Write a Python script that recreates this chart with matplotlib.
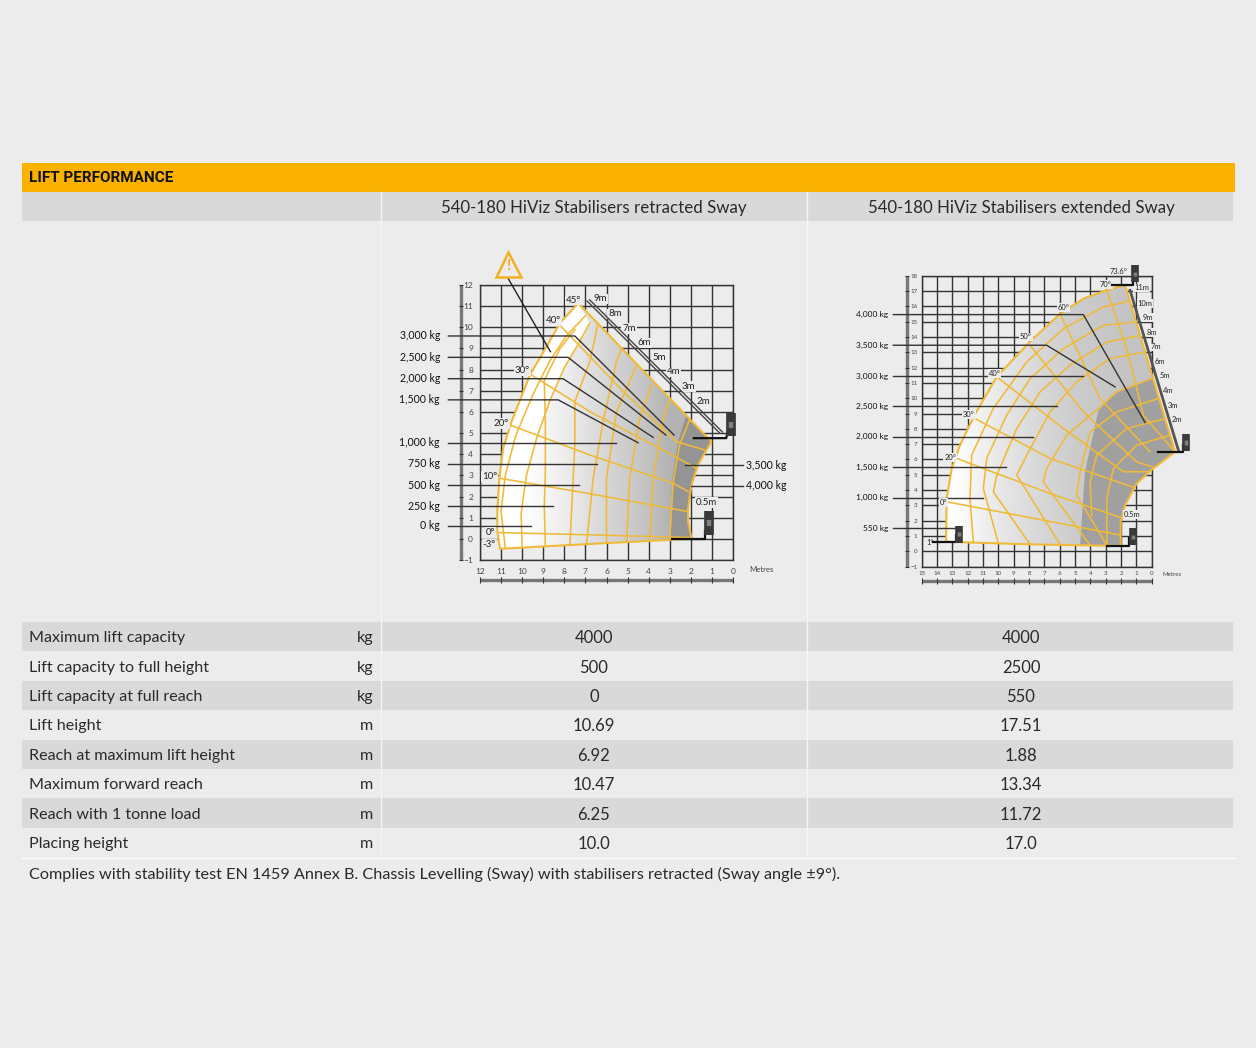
import matplotlib
matplotlib.use('Agg')
import matplotlib.pyplot as plt
from matplotlib.patches import Polygon, Rectangle
import numpy as np

W, H = 1256, 1048
BG = '#ececec'
BAND = '#d9d9d9'
ORANGE = '#fbb100'
YELLOW = '#f0ba38'
TXT = '#2a2a2a'
FONT = 'Lato'

# table contents
title = 'LIFT PERFORMANCE'
col_heads = ['540-180 HiViz Stabilisers retracted Sway', '540-180 HiViz Stabilisers extended Sway']
row_names = ['Maximum lift capacity', 'Lift capacity to full height', 'Lift capacity at full reach', 'Lift height',
             'Reach at maximum lift height', 'Maximum forward reach', 'Reach with 1 tonne load', 'Placing height']
row_units = ['kg', 'kg', 'kg', 'm', 'm', 'm', 'm', 'm']
retracted = ['4000', '500', '0', '10.69', '6.92', '10.47', '6.25', '10.0']
extended = ['4000', '2500', '550', '17.51', '1.88', '13.34', '11.72', '17.0']
footnote = 'Complies with stability test EN 1459 Annex B. Chassis Levelling (Sway) with stabilisers retracted (Sway angle \u00b19\u00b0).'

# left chart, everything in metres
left_env_x = [7.34, 8.21, 8.84, 9.63, 10.5, 10.9, 11.08, 11.18, 11.18, 11.05, 9.0, 6.0, 3.0, 1.97, 2.13, 2.13, 1.97, 1.66, 1.03]
left_env_y = [11.14, 10.2, 9.09, 7.75, 5.55, 4.29, 2.87, 1.29, 0.35, -0.47, -0.36, -0.2, -0.05, 0.03, 0.82, 1.45, 2.55, 3.5, 4.6]
left_arc_x = [10.0, 10.05, 9.8, 9.3, 8.7, 8.0, 7.4, 6.8]
left_arc_y = [-0.4, 1.2, 3.0, 4.8, 6.5, 8.1, 9.1, 10.2]
left_yellow = [
    ([11.2, 6.8, 1.97], [0.3, 0.19, 0.06]),
    ([11.1, 6.95, 2.13], [2.87, 2.16, 1.29]),
    ([10.6, 6.8, 2.84, 2.13], [5.39, 3.97, 2.63, 2.24]),
    ([9.56, 6.8, 3.48, 1.74], [7.75, 6.02, 4.28, 3.34]),
    ([8.21, 5.2, 2.69, 1.34], [10.1, 6.96, 4.6, 4.2]),
    ([7.74, 7.5, 7.5, 6.79, 6.4], [-0.36, 4.44, 6.49, 8.38, 10.2]),
    ([6.95, 6.63, 6.16, 5.53, 5.2], [-0.28, 2.87, 5.54, 8.38, 9.2]),
    ([6.0, 6.0, 5.53, 4.58], [-0.2, 2.87, 6.0, 8.2]),
    ([5.05, 4.9, 4.42, 3.87], [-0.17, 2.87, 5.7, 7.28]),
    ([3.95, 3.79, 3.32, 2.92], [-0.09, 2.87, 5.7, 6.8]),
    ([3.0, 2.84, 2.53, 1.97], [-0.05, 2.7, 4.44, 5.86]),
    ([10.8, 11.0, 10.8, 10.3, 9.5, 8.7, 7.9, 7.0], [-0.45, 1.3, 3.0, 4.9, 6.8, 8.4, 9.6, 10.55]),
    (left_arc_x, left_arc_y),
    ([8.9, 8.95, 8.9, 8.9, 8.95, 8.2, 7.5], [-0.36, 1.5, 3.2, 5.5, 7.5, 9.0, 9.9]),
]
left_dark_x = [2.95, 2.9, 2.6, 2.0, 0.5, 0.5, 1.0]
left_dark_y = [-0.2, 2.7, 4.6, 6.6, 6.6, 3.0, -0.2]
left_load_names = ['3,000 kg', '2,500 kg', '2,000 kg', '1,500 kg', '1,000 kg', '750 kg', '500 kg', '250 kg', '0 kg']
left_load_y = [9.59, 8.58, 7.57, 6.57, 4.54, 3.54, 2.54, 1.53, 0.63]
left_load_x = [[7.5, 2.8], [7.82, 3.19], [8.06, 3.79], [8.29, 4.5], [5.53], [6.45], [7.31], [8.53], [9.56]]
left_load_end_y = [4.91, 4.91, 4.8, 4.54, 4.54, 3.54, 2.54, 1.53, 0.63]
left_angle_names = ['45\u00b0', '40\u00b0', '30\u00b0', '20\u00b0', '10\u00b0', '0\u00b0', '-3\u00b0']
left_angle_x = [7.58, 8.5, 9.98, 11.0, 11.53, 11.5, 11.56]
left_angle_y = [11.29, 10.3, 7.94, 5.46, 2.94, 0.31, -0.28]
left_ext_names = ['9m', '8m', '7m', '6m', '5m', '4m', '3m', '2m', '0.5m']
left_ext_x = [6.3, 5.6, 4.93, 4.22, 3.52, 2.81, 2.1, 1.39, 1.26]
left_ext_y = [11.34, 10.63, 9.95, 9.26, 8.57, 7.89, 7.2, 6.49, 1.72]

# right chart
right_env_x = [1.74, 2.93, 4.46, 5.98, 7.93, 10.1, 11.5, 12.5, 13.04, 13.37, 13.41, 7.93, 2.93, 2.02, 2.02, 1.74, 0.98, -0.11, -1.52]
right_env_y = [17.39, 17.06, 16.5, 15.5, 13.7, 11.4, 9.0, 6.94, 5.42, 3.46, 0.63, 0.46, 0.37, 0.37, 1.94, 3.02, 4.44, 5.42, 6.5]
right_yellow = [
    ([1.2, 3.15, 5.76, 8.15, 10.33, 11.74, 11.85, 11.63], [16.4, 15.96, 14.54, 12.37, 9.33, 6.28, 3.46, 0.52]),
    ([0.98, 3.15, 5.76, 7.93, 9.46, 10.76, 10.98, 10.0], [14.98, 14.76, 13.24, 11.28, 8.89, 6.07, 4.11, 0.52]),
    ([0.65, 2.93, 5.33, 7.28, 8.8, 10.1, 10.33, 7.93], [14.11, 13.67, 12.15, 10.41, 8.02, 4.98, 3.89, 0.46]),
    ([0.43, 2.72, 4.89, 6.63, 8.15, 8.8, 5.98], [13.02, 12.59, 11.07, 9.11, 6.28, 4.98, 0.46]),
    ([0.0, 2.28, 3.48, 5.54, 6.85, 7.07, 4.02], [11.28, 10.41, 9.33, 7.59, 5.41, 4.54, 0.41]),
    ([-0.43, 2.28, 4.02, 4.67, 4.89, 2.93], [9.98, 9.11, 7.8, 5.2, 3.67, 0.41]),
    ([-0.87, 1.63, 3.59, 4.02, 3.91], [8.67, 8.02, 6.28, 4.54, 2.37]),
    ([-1.2, 0.98, 2.5, 2.93, 2.93], [7.59, 6.93, 5.41, 3.46, 0.41]),
    ([13.37, 8.8, 2.07], [3.24, 2.37, 1.07]),
    ([12.72, 6.63, 1.85], [6.07, 3.78, 2.15]),
    ([11.52, 6.63, 0.98], [8.67, 6.07, 4.11]),
    ([10.1, 5.76, 1.85, 0.0], [11.39, 8.02, 5.2, 5.2]),
    ([7.93, 4.46, 0.98, -0.33], [13.46, 9.11, 5.85, 5.41]),
    ([5.98, 3.37, 0.11], [15.52, 9.98, 6.5]),
    ([2.93, 1.63, 0.54, -1.52], [17.04, 13.24, 8.89, 6.5]),
]
right_dark_x = [4.67, 4.5, 4.35, 3.48, 2.28, 0.0, -0.5, -2.0, -2.0, 1.0]
right_dark_y = [0.3, 3.0, 5.2, 9.2, 10.4, 11.28, 11.3, 6.0, 0.3, 0.3]
right_load_names = ['4,000 kg', '3,500 kg', '3,000 kg', '2,500 kg', '2,000 kg', '1,500 kg', '1,000 kg', '550 kg']
right_load_y = [15.46, 13.46, 11.43, 9.48, 7.48, 5.48, 3.5, 1.5]
right_load_x = [[4.46, 0.43], [6.85, 2.39], [4.46], [6.2], [7.72], [9.5], [10.98], [12.72]]
right_load_end_y = [8.41, 10.74, 11.43, 9.48, 7.48, 5.48, 3.5, 1.5]
right_angle_names = ['73.6\u00b0', '70\u00b0', '60\u00b0', '50\u00b0', '40\u00b0', '30\u00b0', '20\u00b0', '0\u00b0', '1\u00b0']
right_angle_x = [2.17, 2.98, 5.76, 8.2, 10.26, 11.91, 13.15, 13.59, 14.46]
right_angle_y = [18.3, 17.41, 15.91, 14.0, 11.61, 8.93, 6.13, 3.2, 0.59]
right_ext_names = ['11m', '10m', '9m', '8m', '7m', '6m', '5m', '4m', '3m', '2m', '0.5m']
right_ext_x = [0.65, 0.43, 0.26, 0.0, -0.28, -0.54, -0.83, -1.09, -1.37, -1.67, 1.3]
right_ext_y = [17.2, 16.2, 15.26, 14.3, 13.35, 12.39, 11.46, 10.5, 9.54, 8.59, 2.41]

plt.rcParams['font.family'] = [FONT, 'DejaVu Sans']
fig = plt.figure(figsize=(W / 100, H / 100), dpi=100, facecolor=BG)

# the table is laid out in pixels on a full figure axes
page = fig.add_axes([0, 0, 1, 1])
page.set_xlim(0, W)
page.set_ylim(H, 0)
page.axis('off')

page.add_patch(Rectangle((22, 163), 1213, 29, fc=ORANGE, ec='none'))
page.add_patch(Rectangle((22, 192), 1211, 29, fc=BAND, ec='none'))
page.text(29, 178.5, title, fontsize=11, fontweight='bold', family='Roboto', color='#111111', va='center')
page.text(594, 208, col_heads[0], fontsize=12.2, color=TXT, ha='center', va='center')
page.text(1021, 208, col_heads[1], fontsize=12.2, color=TXT, ha='center', va='center')

row_h = 29.4
for i in range(len(row_names)):
    top = 622 + i * row_h
    mid = top + row_h / 2 + 1.5
    if i % 2 == 0:
        page.add_patch(Rectangle((22, top), 1211, row_h, fc=BAND, ec='none'))
    page.text(29, mid, row_names[i], fontsize=11.6, color=TXT, va='center')
    page.text(373, mid, row_units[i], fontsize=11.6, color=TXT, va='center', ha='right')
    page.text(594, mid, retracted[i], fontsize=12, color=TXT, va='center', ha='center')
    page.text(1021, mid, extended[i], fontsize=12, color=TXT, va='center', ha='center')
page.plot([22, 1235], [858, 858], color='white', lw=1)
page.plot([380.5, 380.5], [192, 858], color='#f6f6f6', lw=1)
page.plot([807, 807], [192, 858], color='#f6f6f6', lw=1)
page.text(29, 874, footnote, fontsize=11.7, color=TXT, va='center')


def draw_icon(ax, x, y, half, fork_x, fork_y, width):
    ax.plot(fork_x, fork_y, color='#111111', lw=1.6, clip_on=False, zorder=7)
    ax.plot([x, x], [y - half, y + half], color='#3a3a3a', lw=width, clip_on=False, zorder=7, solid_capstyle='butt')
    ax.plot([x, x], [y - half * 0.25, y + half * 0.25], color='#808080', lw=width * 0.45, clip_on=False, zorder=8, solid_capstyle='butt')


def draw_chart(box, xmax, ymax, env_x, env_y, yellow, shade_x, shade_grey, dark_x, dark_y, dark_col, names, load_y, load_x, end_y,
               tick_size, label_size, name_x, name_end, bar_x, bar_y):
    ax = fig.add_axes([box[0] / W, 1 - box[3] / H, (box[2] - box[0]) / W, (box[3] - box[1]) / H])
    ax.patch.set_alpha(0)
    ax.set_xlim(xmax, 0)
    ax.set_ylim(-1, ymax)
    ax.set_xticks(range(xmax + 1))
    ax.set_yticks(range(-1, ymax + 1))
    ax.tick_params(length=0, labelsize=tick_size, colors='#444444', pad=3)
    ax.grid(color='#333333', lw=1)
    ax.set_axisbelow(True)
    for s in ax.spines.values():
        s.set_color('#333333')
        s.set_linewidth(1)

    # shaded envelope, lighter away from the machine, darker inner zone
    gx, gy = np.meshgrid(np.linspace(xmax, -3, 500), np.linspace(ymax + 1, -1, 500))
    shade = np.interp(gx, shade_x, shade_grey)
    img = ax.imshow(shade, extent=(xmax, -3, -1, ymax + 1), cmap='gray', vmin=0, vmax=1, aspect='auto', zorder=3)
    ax.set_xlim(xmax, 0)
    ax.set_ylim(-1, ymax)
    env = Polygon(np.column_stack([env_x, env_y]), closed=True, fc='none', ec=YELLOW, lw=1.5, zorder=5, clip_on=False)
    ax.add_patch(env)
    img.set_clip_box(None)
    img.set_clip_path(env)
    dark = ax.fill(dark_x, dark_y, color=dark_col, lw=0, zorder=3.2)[0]
    dark.set_clip_box(None)
    dark.set_clip_path(env)
    for lx, ly in yellow:
        ln, = ax.plot(lx, ly, color=YELLOW, lw=1.15, zorder=4)
        ln.set_clip_box(None)
        ln.set_clip_path(env)

    # load labels with their leader lines
    for i in range(len(names)):
        xs = [name_x] + load_x[i]
        ys = [load_y[i]] * len(load_x[i]) + [end_y[i]]
        ax.plot(xs, ys, color='#333333', lw=1, clip_on=False, zorder=6)
        ax.text(name_end, load_y[i], names[i], fontsize=label_size, color='#111111', ha='right', va='center', clip_on=False)

    # grey scale bars beside the axes, with their small ticks
    ax.plot([bar_x, bar_x], [-1, ymax], color='#777777', lw=2.4, clip_on=False, solid_capstyle='butt')
    ax.plot([xmax, 0], [bar_y, bar_y], color='#777777', lw=2.4, clip_on=False, solid_capstyle='butt')
    ax.plot(np.arange(xmax + 1), [bar_y] * (xmax + 1), ls='none', marker='|', ms=4, mew=0.8, color='#333333', clip_on=False)
    ax.plot([bar_x] * (ymax + 2), np.arange(-1, ymax + 1), ls='none', marker='_', ms=3, mew=0.8, color='#333333', clip_on=False)
    return ax


def put_labels(ax, xs, ys, names, size):
    for x, y, name in zip(xs, ys, names):
        ax.text(x, y, name, fontsize=size, color='#222222', ha='center', va='center', zorder=6, clip_on=False,
                bbox=dict(fc=BG, ec='none', pad=0.6))


ax1 = draw_chart((480, 285, 733, 560), 12, 12, left_env_x, left_env_y, left_yellow,
                 [3.0, 4.0, 6.0, 8.0, 10.0], [0.70, 0.76, 0.84, 0.93, 1.0],
                 left_dark_x, left_dark_y, '#949494',
                 left_load_names, left_load_y, left_load_x, left_load_end_y, 6, 7.6, 13.5, 13.9, 12.88, -1.94)
ax1.tick_params(axis='y', pad=5)
ax1.tick_params(axis='x', pad=6)
# white outer band between the envelope edge and the first full arc
band_x = left_env_x[:10] + left_arc_x
band_y = left_env_y[:10] + left_arc_y
ax1.fill(band_x, band_y, color='white', lw=0, zorder=3.5)
put_labels(ax1, left_angle_x, left_angle_y, left_angle_names, 7)
put_labels(ax1, left_ext_x, left_ext_y, left_ext_names, 7)
# 3,500 and 4,000 kg labels sit on the right of the chart
ax1.plot([-0.47, 2.29], [3.48, 3.48], color='#333333', lw=1, clip_on=False, zorder=6)
ax1.plot([-0.47, 1.97], [2.52, 2.52], color='#333333', lw=1, clip_on=False, zorder=6)
ax1.text(-0.6, 3.48, '3,500 kg', fontsize=7.6, color='#111111', va='center', clip_on=False)
ax1.text(-0.6, 2.52, '4,000 kg', fontsize=7.6, color='#111111', va='center', clip_on=False)
ax1.plot([6.92, 0.63], [11.24, 5.0], color='#444444', lw=1, clip_on=False, zorder=6)
ax1.plot([6.8, 0.5], [11.3, 5.05], color='#444444', lw=1, clip_on=False, zorder=6)
ax1.text(-1.34, -1.47, 'Metres', fontsize=5.6, color='#444444', ha='center', va='center', clip_on=False)
ax1.plot([10.66, 8.66], [12.3, 8.85], color='#222222', lw=1, clip_on=False, zorder=6)
ax1.plot([10.66], [12.98], marker='^', ms=18, mfc='none', mec='#f0b020', mew=1.8, clip_on=False, zorder=6)
ax1.text(10.66, 12.88, '!', fontsize=11, fontweight='bold', color='#f0b020', ha='center', va='center', clip_on=False)
draw_icon(ax1, 0.1, 5.39, 0.55, [1.86, 0.32, 0.24], [4.76, 4.76, 5.15], 7)
draw_icon(ax1, 1.14, 0.75, 0.55, [2.88, 1.34, 1.34], [0.0, 0.0, 0.35], 7)

ax2 = draw_chart((921.7, 275.7, 1151.7, 566.7), 15, 18, right_env_x, right_env_y, right_yellow,
                 [0.0, 2.0, 5.0, 8.0, 10.0, 12.0, 13.0], [0.76, 0.77, 0.80, 0.86, 0.91, 0.97, 1.0],
                 right_dark_x, right_dark_y, '#a0a0a0',
                 right_load_names, right_load_y, right_load_x, right_load_end_y, 4.4, 6, 16.85, 17.2, 15.93, -1.93)
put_labels(ax2, right_angle_x, right_angle_y, right_angle_names, 5.4)
put_labels(ax2, right_ext_x, right_ext_y, right_ext_names, 5.4)
ax2.plot([1.41, -1.74], [17.04, 6.61], color='#555555', lw=2, clip_on=False, zorder=6)
ax2.text(-1.3, -1.5, 'Metres', fontsize=4.4, color='#444444', ha='center', va='center', clip_on=False)
draw_icon(ax2, 1.09, 18.13, 0.54, [2.61, 1.2, 1.2], [17.37, 17.37, 17.8], 5.5)
draw_icon(ax2, -2.22, 7.11, 0.54, [-0.43, -2.02, -2.02], [6.5, 6.5, 6.93], 5.5)
draw_icon(ax2, 1.2, 0.96, 0.54, [2.93, 1.46, 1.46], [0.37, 0.37, 0.85], 5.5)
draw_icon(ax2, 12.54, 1.11, 0.54, [14.24, 12.76, 12.76], [0.59, 0.59, 1.07], 5.5)

fig.savefig('out.png', dpi=100, facecolor=BG)
